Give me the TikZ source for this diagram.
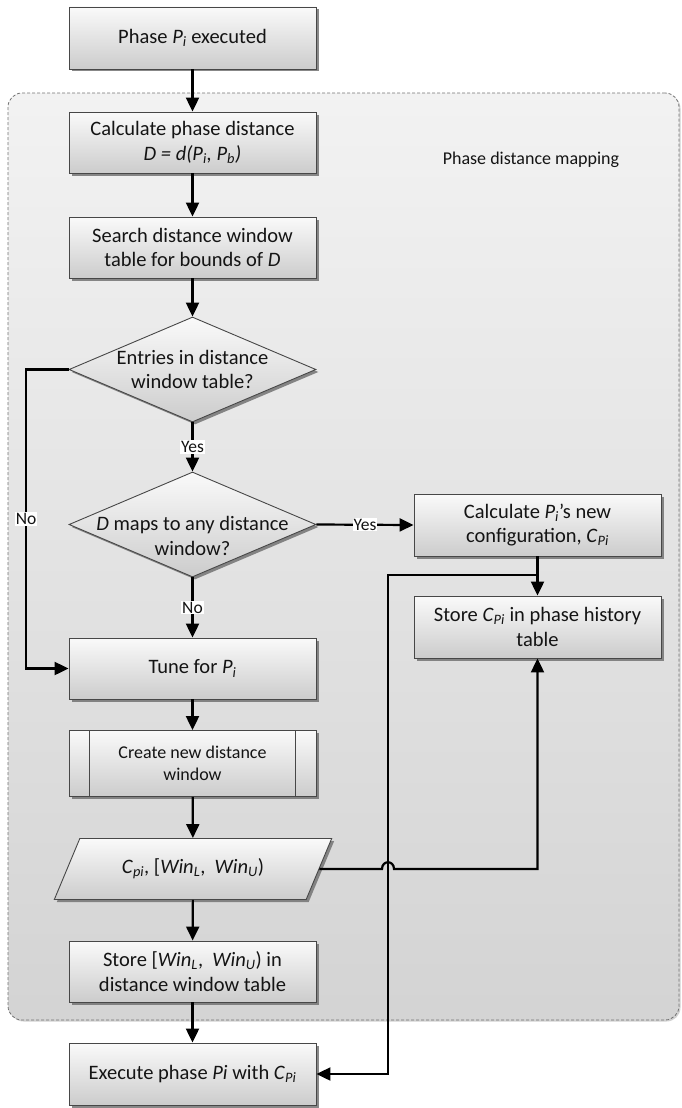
\documentclass[tikz,border=0pt]{standalone}
\usepackage{fontspec}
\setmainfont{Carlito}
\usetikzlibrary{shapes.geometric,shadows,arrows.meta}
\newcommand\mainfs{\fontsize{20.5}{24.5}\selectfont}
\newcommand\smallfs{\fontsize{18}{22}\selectfont}
\newcommand\lblfs{\fontsize{17.5}{20}\selectfont}
\newcommand\It[1]{\textit{#1}}
\newcommand\Sb[1]{\textsubscript{\textit{#1}}}
\tikzset{
  shad/.style={drop shadow={shadow xshift=2.5pt,shadow yshift=-2.5pt,fill=black!55,opacity=0.85}},
  grad/.style={top color=black!2,bottom color=black!20},
  procbox/.style={rectangle,draw=black!72,line width=0.9pt,grad,shad,
    minimum width=247pt,minimum height=61pt,align=center,inner sep=2pt,
    text=black!92,font=\mainfs},
  decbox/.style={diamond,draw=black!72,line width=0.9pt,grad,shad,
    minimum width=247pt,minimum height=105pt,inner sep=0pt},
  dectext/.style={align=center,text=black!92,font=\mainfs,inner sep=0pt},
  iobox/.style={trapezium,trapezium left angle=56,trapezium right angle=124,
    trapezium stretches=true,draw=black!72,line width=0.9pt,grad,shad,
    minimum width=278pt,minimum height=61pt,align=center,inner sep=2pt,
    text=black!92,font=\mainfs},
  arr/.style={line width=2.2pt,black,-{Triangle[length=14pt,width=13pt]}},
  lbl/.style={fill=white,inner sep=1pt,font=\lblfs,text=black!92},
  container/.style={rectangle,rounded corners=14pt,draw=black!55,line width=0.8pt,
    dash pattern=on 3pt off 2pt,top color=black!5,bottom color=black!17,
    drop shadow={shadow xshift=1.5pt,shadow yshift=-1.5pt,fill=black!30,opacity=0.6}}
}
\begin{document}
\begin{tikzpicture}[x=1pt,y=-1pt]
\useasboundingbox (0,0) rectangle (681,1108);

\node[container,minimum width=671pt,minimum height=927pt] (mapbox) at (343.5,556.5) {};
\node[font=\smallfs,text=black!92] (maplbl) at (531,160) {Phase distance mapping};

\node[procbox,minimum height=62pt] (b1) at (192.5,38) {Phase \It{P}\Sb{i} executed};
\node[procbox] (b2) at (192.5,142.5) {Calculate phase distance\\\It{D = d(P\Sb{i}, P\Sb{b})}};
\node[procbox] (b3) at (192.5,247.5) {Search distance window\\table for bounds of \It{D}};
\node[decbox] (d1) at (192.5,369.5) {};
\node[dectext] (d1t) at (192.5,369.5) {Entries in distance\\window table?};
\node[decbox] (d2) at (192.5,524.5) {};
\node[dectext] (d2t) at (192.5,536) {\It{D} maps to any distance\\window?};
\node[procbox] (tune) at (192.5,668.5) {Tune for \It{P}\Sb{i}};
\node[procbox,minimum height=66pt] (cw) at (192.5,763.5) {};
\draw[black!72,line width=0.9pt] ([xshift=21pt]cw.north west) -- ([xshift=21pt]cw.south west)
  ([xshift=-21pt]cw.north east) -- ([xshift=-21pt]cw.south east);
\node[font=\smallfs,align=center,text=black!92] (cwt) at (cw) {Create new distance\\window};
\node[iobox] (para) at (193,869) {\It{C}\Sb{pi}, [\It{Win}\Sb{L},~ \It{Win}\Sb{U})};
\node[procbox] (sw) at (192.5,971.5) {Store [\It{Win}\Sb{L},~ \It{Win}\Sb{U}) in\\distance window table};
\node[procbox,minimum height=62pt] (ex) at (192.5,1074) {Execute phase \It{Pi} with \It{C}\Sb{Pi}};

\node[procbox,minimum height=62pt] (rb1) at (537.5,525) {Calculate \It{P}\Sb{i}'s new\\configuration, \It{C}\Sb{Pi}};
\node[procbox,minimum height=62pt] (rb2) at (537.5,627) {Store \It{C}\Sb{Pi} in phase history\\table};

\draw[arr] (b1) -- (b2);
\draw[arr] (b2) -- (b3);
\draw[arr] (b3) -- (d1);
\draw[arr] (d1) -- node[lbl]{Yes} (d2);
\draw[arr] (d1.west) -- ++(-42.5pt,0) |- node[lbl,pos=0.25]{No} (tune.west);
\draw[arr] (d2.east) -- node[lbl]{Yes} (rb1.west);
\draw[arr] (d2) -- node[lbl]{No} (tune);
\draw[arr] (tune) -- (cw);
\draw[arr] (cw) -- (para);
\draw[arr] (para) -- (sw);
\draw[arr] (sw) -- (ex);
\draw[arr] (rb1) -- (rb2);
\coordinate (jn) at (537.5,575);
\draw[arr] (jn) -- (388,575) |- (ex.east);
\draw[arr] (para.east) -- (382,869) .. controls (382,860) and (394,860) .. (394,869) -| (rb2.south);
\end{tikzpicture}
\end{document}
